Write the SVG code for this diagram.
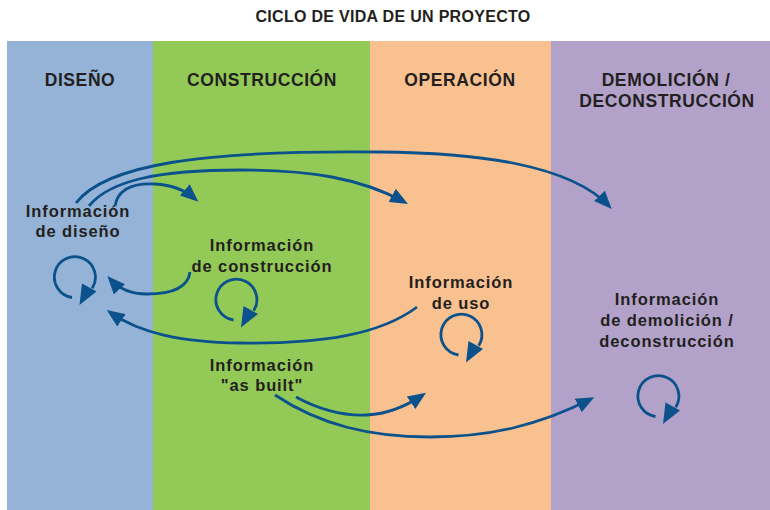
<svg xmlns="http://www.w3.org/2000/svg" xmlns:xlink="http://www.w3.org/1999/xlink" width="770" height="510" viewBox="0 0 770 510">
  <style>
    .title { font-family: "Liberation Sans", Arial, sans-serif; font-weight: bold; font-size: 16px; letter-spacing: 0.3px; fill: #231f20; text-anchor: middle; }
    .phase { font-family: "Liberation Sans", Arial, sans-serif; font-weight: bold; font-size: 17.5px; letter-spacing: 0.6px; fill: #231f20; text-anchor: middle; }
    .lbl { font-family: "Liberation Sans", Arial, sans-serif; font-weight: bold; font-size: 16.5px; letter-spacing: 0.9px; fill: #231f20; text-anchor: middle; }
    .arc { fill: none; stroke: #0b518c; stroke-width: 2.8; stroke-linecap: butt; marker-end: url(#ah); }
    .loopline { fill: none; stroke: #0b518c; stroke-width: 2.8; }
    .head { fill: #0b518c; }
  </style>
  <defs>
    <marker id="ah" markerUnits="userSpaceOnUse" markerWidth="18" markerHeight="15" refX="14" refY="7.5" orient="auto" viewBox="0 0 18 15">
      <path class="head" d="M0,0 L18,7.5 L0,15 Z"/>
    </marker>
    <g id="loop">
      <path class="loopline" d="M-3,20.5 A20.5,20.5 0 1 1 17.2,11.2"/>
      <polygon class="head" points="7,6.5 21.5,14.5 4.5,28"/>
    </g>
  </defs>

  <rect width="770" height="510" fill="#ffffff"/>

  <g id="title">
    <text class="title" x="393" y="22">CICLO DE VIDA DE UN PROYECTO</text>
  </g>

  <g id="phase-diseno">
    <rect x="7" y="41" width="146" height="469" fill="#94b3d7"/>
    <text class="phase" x="80" y="86">DISEÑO</text>
  </g>
  <g id="phase-construccion">
    <rect x="153" y="41" width="217" height="469" fill="#93c957"/>
    <text class="phase" x="262" y="86">CONSTRUCCIÓN</text>
  </g>
  <g id="phase-operacion">
    <rect x="370" y="41" width="181" height="469" fill="#f9c18f"/>
    <text class="phase" x="460" y="86">OPERACIÓN</text>
  </g>
  <g id="phase-demolicion">
    <rect x="551" y="41" width="219" height="469" fill="#b2a2c9"/>
    <text class="phase" x="666" y="86">DEMOLICIÓN /</text>
    <text class="phase" x="667" y="107">DECONSTRUCCIÓN</text>
  </g>

  <g id="node-info-diseno">
    <text class="lbl" x="78" y="217">Información</text>
    <text class="lbl" x="78" y="237">de diseño</text>
  </g>
  <g id="node-info-construccion">
    <text class="lbl" x="262" y="251">Información</text>
    <text class="lbl" x="262" y="272">de construcción</text>
  </g>
  <g id="node-info-uso">
    <text class="lbl" x="461" y="288">Información</text>
    <text class="lbl" x="461" y="309">de uso</text>
  </g>
  <g id="node-info-demolicion">
    <text class="lbl" x="667" y="305">Información</text>
    <text class="lbl" x="667" y="326">de demolición /</text>
    <text class="lbl" x="667" y="347">deconstrucción</text>
  </g>
  <g id="node-info-asbuilt">
    <text class="lbl" x="262" y="371">Información</text>
    <text class="lbl" x="262" y="391">"as built"</text>
  </g>

  <g id="connectors">
    <path class="arc" d="M76,203 C105,165 200,150 380,152 C480,153 570,165 609,206"/>
    <path class="arc" d="M89,206 C110,180 160,170 240,170 C310,170 360,178 404.5,202"/>
    <path class="arc" d="M115,206 C118,188 135,183 155,184 C172,185 185,190 195.3,199"/>
    <path class="arc" d="M190,272 C188,288 170,294 147,294 C132,294 120,290 110,279"/>
    <path class="arc" d="M417,307 C380,335 320,344 240,343 C180,342 140,333 110,312.3"/>
    <path class="arc" d="M296,397 C320,410 345,416 367,415 C385,414 402,409 422.7,395"/>
    <path class="arc" d="M275,395 C320,425 370,437 430,437 C490,437 540,425 590.7,399.1"/>
    <use xlink:href="#loop" href="#loop" x="75" y="277"/>
    <use xlink:href="#loop" href="#loop" x="236.5" y="299.5"/>
    <use xlink:href="#loop" href="#loop" x="461.5" y="334.5"/>
    <use xlink:href="#loop" href="#loop" x="658.5" y="396"/>
  </g>
</svg>
